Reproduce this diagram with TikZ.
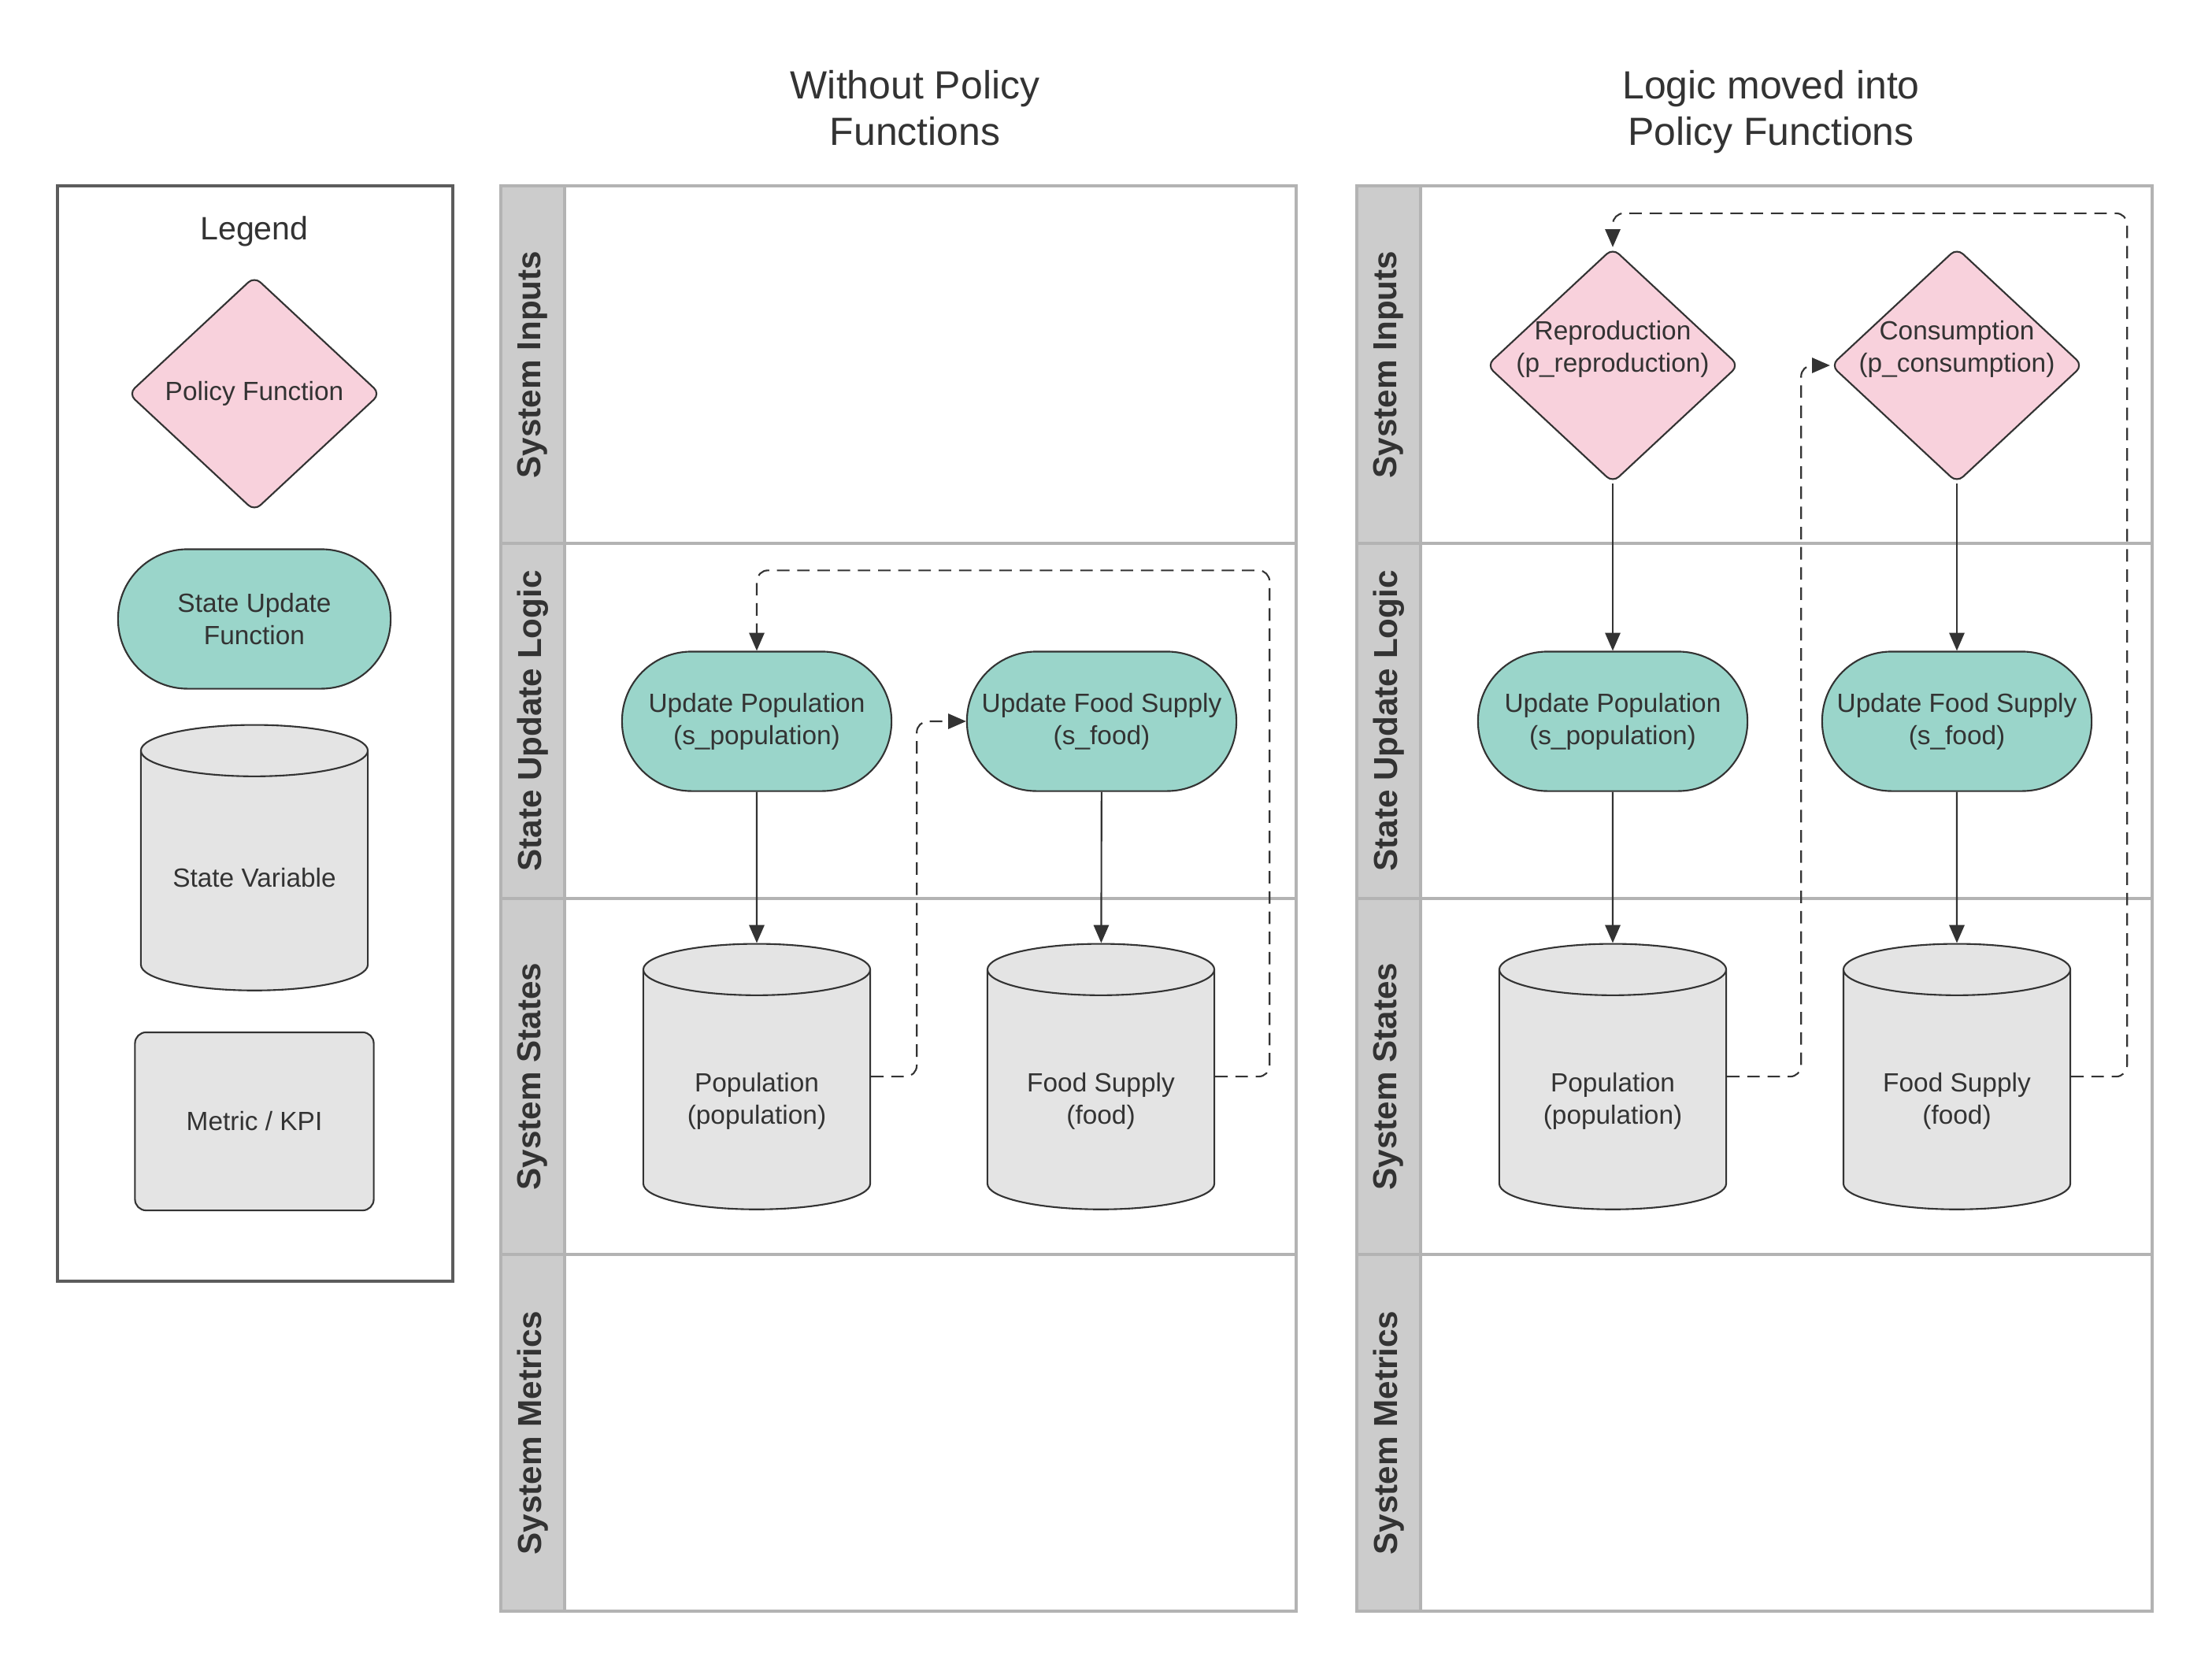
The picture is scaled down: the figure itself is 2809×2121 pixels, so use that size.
\documentclass[tikz,border=0pt]{standalone}
\usepackage{fontspec}
\setmainfont{Liberation Sans}
\usetikzlibrary{shapes.geometric,arrows.meta}

\definecolor{txtgray}{HTML}{333333}
\definecolor{policypink}{HTML}{F8D1DC}
\definecolor{updateteal}{HTML}{9AD5CA}
\definecolor{stategray}{HTML}{E4E4E4}
\definecolor{lanegray}{HTML}{CCCCCC}
\definecolor{linegray}{HTML}{B3B3B3}
\definecolor{legendgray}{HTML}{5C5C5C}

\newcommand{\stockbox}{\phantom{(population)}\\\phantom{(population)}}

\tikzset{
	every node/.style={text=txtgray, font=\fontsize{9.5}{11.7}\selectfont, align=center},
	policy/.style={diamond, draw=txtgray, line width=0.6pt, fill=policypink, rounded corners=3pt, minimum width=3.2cm, minimum height=2.98cm, inner sep=0pt},
	update/.style={rectangle, draw=txtgray, line width=0.6pt, fill=updateteal, rounded corners=0.88cm, minimum width=3.42cm, minimum height=1.77cm, inner sep=1pt},
	stock/.style={cylinder, shape border rotate=90, draw=txtgray, line width=0.6pt, fill=stategray, aspect=0.37, minimum width=2.88cm, minimum height=3.37cm, inner sep=0pt},
	metric/.style={rectangle, draw=txtgray, line width=0.6pt, fill=stategray, rounded corners=4pt, minimum width=3.03cm, minimum height=2.26cm},
	lane/.style={rotate=90, font=\fontsize{12}{14}\selectfont\bfseries},
	heading/.style={font=\fontsize{14.2}{16.8}\selectfont},
	flow/.style={-{Triangle[length=6.5pt,width=5.5pt]}, draw=txtgray, line width=0.6pt},
	feedback/.style={flow, dash pattern=on 4.5pt off 2.8pt, rounded corners=4pt},
}

\begin{document}
\begin{tikzpicture}[x=0.01cm, y=-0.01cm]
	\useasboundingbox (0,0) rectangle (2809,2121);
	\fill[white] (0,0) rectangle (2809,2121);

	% legend
	\draw[legendgray, line width=1.2pt] (73,236) rectangle (575,1627);
	\node[font=\fontsize{11.7}{14}\selectfont] (legend) at (323,294) {Legend};
	\node[policy] (lg-policy) at (323,500) {Policy Function};
	\node[update, minimum width=3.46cm] (lg-update) at (323,786) {State Update\\Function};
	\node[stock] (lg-state) at (323,1106) {\stockbox};
	\node (lg-state-t) at ([yshift=-0.25cm]lg-state.shape center) {State Variable};
	\node[metric] (lg-metric) at (323,1424) {Metric / KPI};

	% panels
	\foreach \px/\pn in {636/a,1723/b}{
		\fill[lanegray] (\px,236) rectangle (\px+81,2046);
		\foreach \ly in {690,1141,1593}
			\draw[linegray, line width=1pt] (\px,\ly) -- (\px+1010,\ly);
		\draw[linegray, line width=1pt] (\px+81,236) -- (\px+81,2046);
		\draw[linegray, line width=1pt] (\px,236) rectangle (\px+1010,2046);
		\node[lane] (\pn-inputs) at (\px+40.5,463) {System Inputs};
		\node[lane] (\pn-logic) at (\px+40.5,915.5) {State Update Logic};
		\node[lane] (\pn-states) at (\px+40.5,1367) {System States};
		\node[lane] (\pn-metrics) at (\px+40.5,1819.5) {System Metrics};
	}

	\node[heading] (a-title) at (1162,137) {Without Policy\\Functions};
	\node[heading] (b-title) at (2249,142) {Logic moved into\\Policy Functions};

	% without policy functions
	\node[update] (a-upop) at (961,916) {Update Population\\(s\_population)};
	\node[update] (a-ufood) at (1399,916) {Update Food Supply\\(s\_food)};
	\node[stock] (a-pop) at (961,1384) {\stockbox};
	\node (a-pop-t) at ([yshift=-0.31cm]a-pop.shape center) {Population\\(population)};
	\node[stock] (a-food) at (1398,1384) {\stockbox};
	\node (a-food-t) at ([yshift=-0.31cm]a-food.shape center) {Food Supply\\(food)};

	\draw[flow] (a-upop) -- (a-pop);
	\draw[flow] (a-ufood) -- (a-food);
	\draw[feedback] (a-pop.shape center -| a-pop.east) -- ++(58,0) |- (a-ufood.west);
	\draw[feedback] (a-food.shape center -| a-food.east) -- ++(69,0) |- ([yshift=1.02cm]a-upop.north) -- (a-upop.north);

	% policy functions
	\node[policy] (b-repro) at (2048,464) {};
	\node (b-repro-t) at ([yshift=0.21cm]b-repro.center) {Reproduction\\(p\_reproduction)};
	\node[policy] (b-cons) at (2485,464) {};
	\node (b-cons-t) at ([yshift=0.21cm]b-cons.center) {Consumption\\(p\_consumption)};
	\node[update] (b-upop) at (2048,916) {Update Population\\(s\_population)};
	\node[update] (b-ufood) at (2485,916) {Update Food Supply\\(s\_food)};
	\node[stock] (b-pop) at (2048,1384) {\stockbox};
	\node (b-pop-t) at ([yshift=-0.31cm]b-pop.shape center) {Population\\(population)};
	\node[stock] (b-food) at (2485,1384) {\stockbox};
	\node (b-food-t) at ([yshift=-0.31cm]b-food.shape center) {Food Supply\\(food)};

	\draw[flow] (b-repro) -- (b-upop);
	\draw[flow] (b-cons) -- (b-ufood);
	\draw[flow] (b-upop) -- (b-pop);
	\draw[flow] (b-ufood) -- (b-food);
	\draw[feedback] (b-pop.shape center -| b-pop.east) -- ++(94,0) |- (b-cons.west);
	\draw[feedback] (b-food.shape center -| b-food.east) -- ++(71,0) |- ([yshift=0.43cm]b-repro.north) -- (b-repro.north);
\end{tikzpicture}
\end{document}
